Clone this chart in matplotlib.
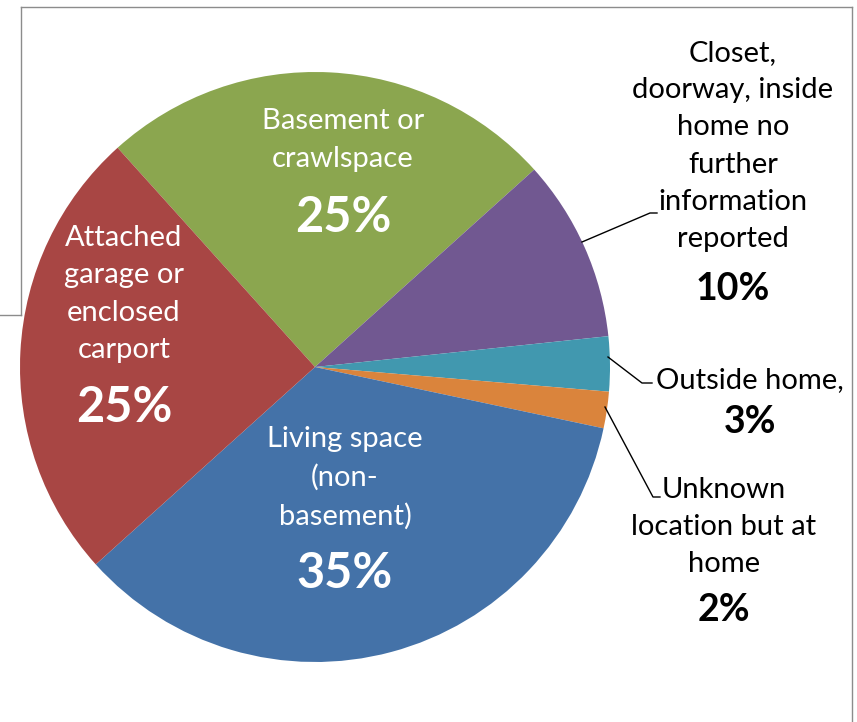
import matplotlib.pyplot as plt

plt.rcParams['font.family'] = ['Lato', 'DejaVu Sans']

# share of incidents by location in the home, clockwise from the basement
locations = ['Basement or\ncrawlspace',
             'Closet,\ndoorway, inside\nhome no\nfurther\ninformation\nreported',
             'Outside home,',
             'Unknown\nlocation but at\nhome',
             'Living space\n(non-\nbasement)',
             'Attached\ngarage or\nenclosed\ncarport']
shares = [25, 10, 3, 2, 35, 25]
colors = ['#8BA64F', '#715891', '#4198AF', '#DA843C', '#4472A8', '#A84644']

W, H = 857, 722
fig = plt.figure(figsize=(W / 100, H / 100), dpi=100)
ax = fig.add_axes([0, 0, 1, 1])


def py(y):
    # pixel rows are counted from the top
    return H - y


cx, cy, r = 315, py(367), 295
ax.pie(shares, colors=colors, startangle=132, counterclock=False,
       center=(cx, cy), radius=r, wedgeprops=dict(linewidth=0))
ax.set_xlim(0, W)
ax.set_ylim(0, H)
ax.set_aspect('equal')
ax.axis('off')

# frame lines
frame = dict(color='#8C8C8C', lw=1)
ax.plot([21, 852], [py(7), py(7)], **frame)
ax.plot([852, 852], [py(7), 0], **frame)
ax.plot([21, 21], [py(7), py(315)], **frame)
ax.plot([0, 21], [py(315), py(315)], **frame)

name_fs = 21
ls = 1.54

# labels inside the slices (white)
inside = {0: (343, 140, 217), 5: (124, 294, 408), 4: (345, 478, 573)}
for i, (x, yname, ypct) in inside.items():
    ax.text(x, py(yname), locations[i], color='white', fontsize=name_fs,
            ha='center', va='center', linespacing=ls)
    ax.text(x, py(ypct), f'{shares[i]}%', color='white', fontsize=35,
            fontweight='bold', ha='center', va='center')

# labels outside the pie (black) with leader lines
outside = {1: (733, 146, 289), 2: (750, 380, 422), 3: (724, 527, 610)}
for i, (x, yname, ypct) in outside.items():
    ax.text(x, py(yname), locations[i], color='black', fontsize=name_fs,
            ha='center', va='center', linespacing=ls)
    ax.text(x, py(ypct), f'{shares[i]}%', color='black', fontsize=27,
            fontweight='bold', ha='center', va='center')

leaders = [[(582, 242), (650, 213), (657, 213)],
           [(608, 357), (642, 383), (652, 383)],
           [(605, 407), (653, 497), (660, 497)]]
for pts in leaders:
    ax.plot([p[0] for p in pts], [py(p[1]) for p in pts], color='black', lw=1)

fig.savefig('out.png', dpi=100)
